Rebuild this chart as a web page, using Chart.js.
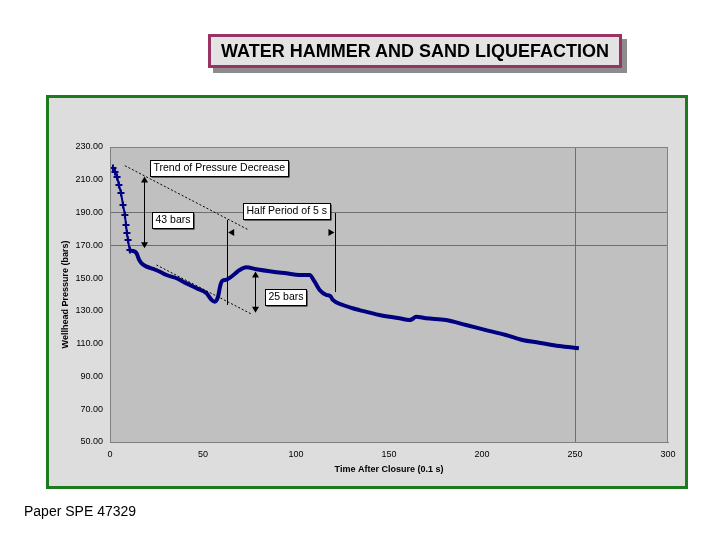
<!DOCTYPE html>
<html>
<head>
<meta charset="utf-8">
<script src="https://cdn.jsdelivr.net/npm/chart.js@4/dist/chart.umd.min.js"></script>
<style>
body { margin: 0; background: #fff; width: 720px; height: 540px; position: relative; overflow: hidden; font-family: "Liberation Sans", Arial, sans-serif; }
#chart { position: absolute; left: 0; top: 0; }
#title { position: absolute; left: 208px; top: 34px; width: 408px; height: 28px; border: 3px solid #993366; background: #e3e3e3; box-shadow: 5px 5px 0 #8c8c8c; font-weight: bold; font-size: 18px; line-height: 29px; text-align: center; color: #000; }
#footer { position: absolute; left: 24px; top: 503px; font-size: 14px; color: #000; }
</style>
</head>
<body>
<canvas id="chart" width="720" height="540"></canvas>
<div id="title">WATER HAMMER AND SAND LIQUEFACTION</div>
<div id="footer">Paper SPE 47329</div>
<script>
// time after closure (0.1 s) and wellhead pressure (bars)
const time = [1.6, 2.7, 3.8, 4.8, 5.9, 7.0, 8.0, 8.6, 9.1, 9.7, 10.7, 12.5, 14.3, 15.7, 17.0, 19.7, 23.2, 26.8, 30.4, 35.8,
  41.1, 46.5, 51.9, 54.6, 56.3, 58.1, 59.3, 60.5, 62.5, 64.5, 67.0, 69.7, 73.3, 78.7, 87.6, 94.8, 101.9, 107.3, 110.0, 112.7,
  116.3, 118.5, 119.8, 125.2, 130.5, 134.1, 144.8, 155.6, 160.9, 162.5, 164.5, 169.9, 180.6, 191.4, 202.1, 212.8, 221.7, 230.7, 241.4, 252.1];
const pressure = [217.2, 214.7, 211.7, 206.8, 201.9, 194.6, 188.5, 182.4, 177.5, 173.3, 167.2, 166.5, 165.1, 161.1, 159.0, 157.0, 155.6, 153.9, 151.9, 149.9,
  146.8, 143.8, 140.7, 136.7, 135.6, 138.7, 145.5, 148.5, 149.0, 150.3, 152.5, 154.9, 156.6, 155.4, 153.9, 152.9, 151.9, 151.9, 147.8, 142.8,
  139.7, 139.0, 136.7, 133.6, 131.6, 130.5, 127.5, 125.5, 124.4, 125.0, 126.5, 125.5, 124.4, 121.4, 118.3, 115.3, 112.2, 110.6, 108.6, 107.2];
const refLinesY = [190, 170];
const refLinesX = [250];

// annotations in data units
const trendLines = [[8.0, 218.6, 74.2, 179.6], [25.0, 158.0, 76.0, 128.1]];
const spanArrows = [[18.4, 212.0, 168.2], [77.8, 154.0, 128.9]];
const periodLines = [[63.0, 185.5, 133.6], [121.2, 189.7, 141.5]];
const periodArrowY = 177.8;
const labels = [
  ['Trend of Pressure Decrease', 21.5, 222.2],
  ['43 bars', 22.6, 190.4],
  ['Half Period of 5 s', 71.4, 195.8],
  ['25 bars', 83.2, 143.4]
];

const framePlugin = {
  id: 'frame',
  beforeDraw(chart) {
    const c = chart.ctx, a = chart.chartArea;
    c.save();
    c.fillStyle = '#dddddd';
    c.fillRect(47, 96, 640, 392);
    c.strokeStyle = '#1d7a1d';
    c.lineWidth = 3;
    c.strokeRect(47.5, 96.5, 639, 391);
    c.fillStyle = '#c0c0c0';
    c.fillRect(a.left, a.top, a.right - a.left, a.bottom - a.top);
    c.restore();
  },
  afterDraw(chart) {
    const c = chart.ctx, a = chart.chartArea;
    c.save();
    c.strokeStyle = '#808080';
    c.lineWidth = 1;
    c.strokeRect(a.left + 0.5, a.top + 0.5, a.right - a.left - 1, a.bottom - a.top);
    c.restore();
  }
};

function head(c, x, y, dx, dy) {
  const s = 6, w = 3.5;
  c.beginPath();
  c.moveTo(x, y);
  c.lineTo(x - dx * s - dy * w, y - dy * s + dx * w);
  c.lineTo(x - dx * s + dy * w, y - dy * s - dx * w);
  c.closePath();
  c.fill();
}

const notesPlugin = {
  id: 'notes',
  afterDatasetsDraw(chart) {
    const c = chart.ctx, xs = chart.scales.x, ys = chart.scales.y;
    const px = v => xs.getPixelForValue(v), py = v => ys.getPixelForValue(v);
    c.save();
    c.strokeStyle = '#000';
    c.fillStyle = '#000';
    c.lineWidth = 1;
    c.setLineDash([2, 2]);
    trendLines.forEach(l => {
      c.beginPath();
      c.moveTo(px(l[0]), py(l[1]));
      c.lineTo(px(l[2]), py(l[3]));
      c.stroke();
    });
    c.setLineDash([]);
    spanArrows.forEach(s => {
      const x = Math.round(px(s[0])) + 0.5;
      c.beginPath();
      c.moveTo(x, py(s[1]) + 4);
      c.lineTo(x, py(s[2]) - 4);
      c.stroke();
      head(c, x, py(s[1]), 0, -1);
      head(c, x, py(s[2]), 0, 1);
    });
    periodLines.forEach(p => {
      const x = Math.round(px(p[0])) + 0.5;
      c.beginPath();
      c.moveTo(x, py(p[1]));
      c.lineTo(x, py(p[2]));
      c.stroke();
    });
    head(c, px(periodLines[0][0]) + 1, py(periodArrowY), -1, 0);
    head(c, px(periodLines[1][0]) - 1, py(periodArrowY), 1, 0);
    c.font = '10.5px "Liberation Sans", Arial, sans-serif';
    c.textBaseline = 'middle';
    labels.forEach(l => {
      const x = Math.round(px(l[1])) + 0.5, y = Math.round(py(l[2])) + 0.5;
      const w = Math.round(c.measureText(l[0]).width) + 6, h = 16;
      c.fillStyle = '#000';
      c.fillRect(x + 1, y + 1, w, h);
      c.fillStyle = '#fff';
      c.fillRect(x, y, w, h);
      c.strokeRect(x, y, w, h);
      c.fillStyle = '#000';
      c.fillText(l[0], x + 3, y + h / 2);
    });
    c.restore();
  }
};

const tickFont = { family: '"Liberation Sans", Arial, sans-serif', size: 9 };
const titleFont = { family: '"Liberation Sans", Arial, sans-serif', size: 9, weight: 'bold' };

new Chart(document.getElementById('chart'), {
  type: 'line',
  data: {
    datasets: [{
      data: time.map((t, i) => ({ x: t, y: pressure[i] })),
      borderColor: '#000080',
      backgroundColor: '#000080',
      borderWidth: 4,
      cubicInterpolationMode: 'monotone',
      segment: { borderWidth: ctx => ctx.p0DataIndex < 10 ? 2 : 4 },
      pointStyle: 'cross',
      pointBorderWidth: 2,
      pointRadius: ctx => ctx.dataIndex < 11 ? 3.5 : 0
    }]
  },
  options: {
    responsive: false,
    animation: false,
    layout: { padding: { left: 56, right: 52, top: 147, bottom: 61 } },
    plugins: { legend: { display: false }, tooltip: { enabled: false } },
    scales: {
      x: {
        type: 'linear',
        min: 0,
        max: 300,
        afterFit: s => { s.height = 37; },
        ticks: { stepSize: 50, padding: 7, color: '#000', font: tickFont, maxRotation: 0 },
        grid: { drawTicks: false, color: ctx => refLinesX.includes(ctx.tick.value) ? '#6e6e6e' : 'rgba(0,0,0,0)' },
        border: { color: '#808080' },
        title: { display: true, text: 'Time After Closure (0.1 s)', color: '#000', font: titleFont }
      },
      y: {
        min: 50,
        max: 230,
        afterFit: s => { s.width = 54; },
        ticks: { stepSize: 20, padding: 7, color: '#000', font: tickFont, callback: v => v.toFixed(2) },
        grid: { drawTicks: false, color: ctx => refLinesY.includes(ctx.tick.value) ? '#6e6e6e' : 'rgba(0,0,0,0)' },
        border: { color: '#808080' },
        title: { display: true, text: 'Wellhead Pressure (bars)', color: '#000', font: titleFont }
      }
    }
  },
  plugins: [framePlugin, notesPlugin]
});
</script>
</body>
</html>
